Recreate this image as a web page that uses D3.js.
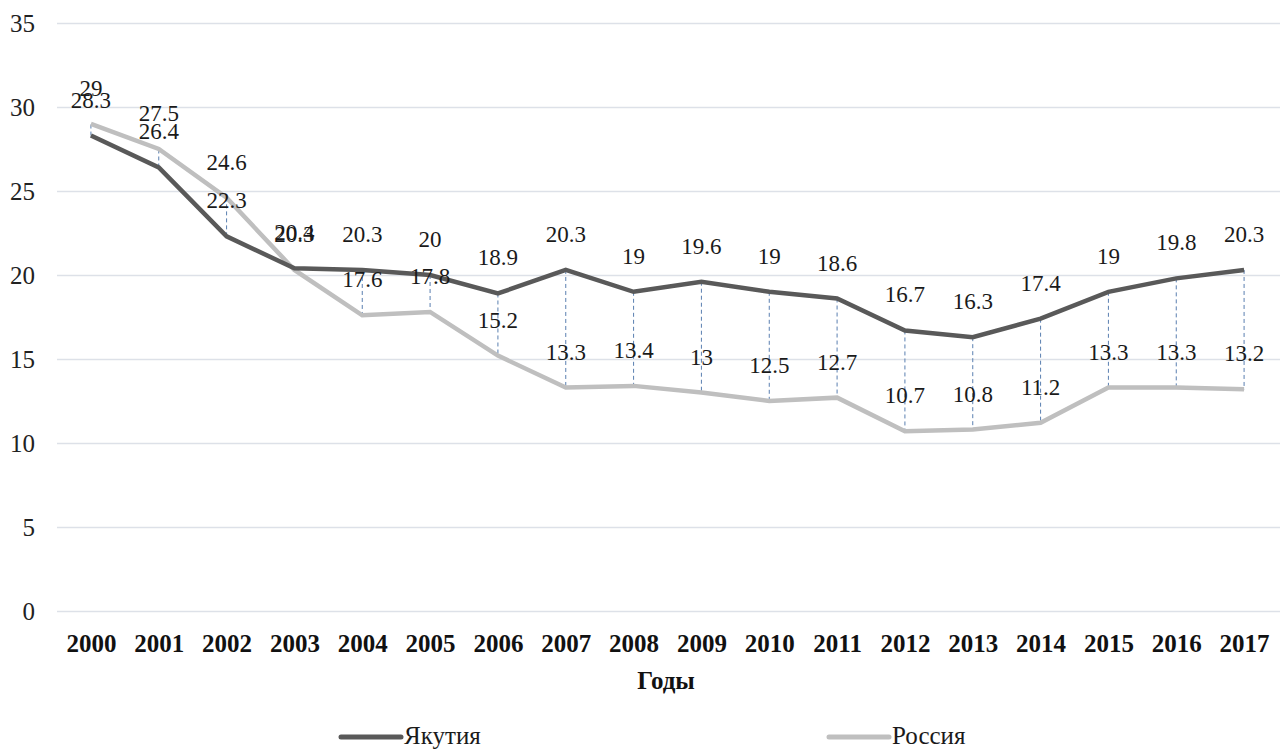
<!DOCTYPE html>
<html>
<head>
<meta charset="utf-8">
<script src="https://cdn.jsdelivr.net/npm/d3@7"></script>
<style>
  body { margin: 0; background: #fff; }
  svg { display: block; font-family: "Liberation Serif", "Times New Roman", serif; }
</style>
</head>
<body>
<svg id="chart" width="1280" height="749"></svg>
<script>
// Chart data
const years = ["2000", "2001", "2002", "2003", "2004", "2005", "2006", "2007", "2008",
  "2009", "2010", "2011", "2012", "2013", "2014", "2015", "2016", "2017"]
const yakutia = [28.3, 26.4, 22.3, 20.4, 20.3, 20, 18.9, 20.3, 19, 19.6, 19, 18.6, 16.7, 16.3, 17.4, 19, 19.8, 20.3]
const russia = [29, 27.5, 24.6, 20.3, 17.6, 17.8, 15.2, 13.3, 13.4, 13, 12.5, 12.7, 10.7, 10.8, 11.2, 13.3, 13.3, 13.2]
const yTicks = [0, 5, 10, 15, 20, 25, 30, 35]

const svg = d3.select("#chart")
const m = { left: 57, right: 1278, top: 23, bottom: 611 }

const x = d3.scalePoint().domain(years).range([m.left, m.right]).padding(0.5)
const y = d3.scaleLinear().domain([0, 35]).range([m.bottom, m.top])

// Gridlines + y labels
const yAxis = d3.axisLeft(y).tickValues(yTicks).tickSize(-(1280 - m.left)).tickPadding(22)
const gy = svg.append("g").attr("transform", `translate(${m.left},0)`).call(yAxis)
gy.select(".domain").remove()
gy.selectAll(".tick line").attr("stroke", "#dde1e8").attr("stroke-width", 1.3)
gy.selectAll(".tick text")
  .attr("font-size", 25).attr("fill", "#222")
  .attr("font-family", "Liberation Serif, serif")

// x labels
const xAxis = d3.axisBottom(x).tickSize(0).tickPadding(0)
const gx = svg.append("g").attr("transform", `translate(0,${m.bottom + 23})`).call(xAxis)
gx.select(".domain").remove()
gx.selectAll(".tick text")
  .attr("font-size", 25).attr("font-weight", "bold").attr("fill", "#111")
  .attr("font-family", "Liberation Serif, serif")

svg.append("text")
  .attr("x", 666).attr("y", 689)
  .attr("text-anchor", "middle")
  .attr("font-size", 25).attr("font-weight", "bold").attr("fill", "#111")
  .text("Годы")

// High-low drop lines
svg.append("g").selectAll("line")
  .data(years)
  .join("line")
  .attr("x1", d => x(d)).attr("x2", d => x(d))
  .attr("y1", (d, i) => y(yakutia[i]))
  .attr("y2", (d, i) => y(russia[i]))
  .attr("stroke", "#5a7fb0")
  .attr("stroke-width", 1)
  .attr("stroke-dasharray", "4,3")

const line = d3.line().x((d, i) => x(years[i])).y(d => y(d))

svg.append("path").datum(russia)
  .attr("d", line).attr("fill", "none")
  .attr("stroke", "#bfbfbf").attr("stroke-width", 4.5)

svg.append("path").datum(yakutia)
  .attr("d", line).attr("fill", "none")
  .attr("stroke", "#595959").attr("stroke-width", 4.5)

// Data labels
const addLabels = (vals) => {
  svg.append("g").selectAll("text")
    .data(vals)
    .join("text")
    .attr("x", (d, i) => x(years[i]))
    .attr("y", d => y(d) - 28)
    .attr("text-anchor", "middle")
    .attr("font-size", 23)
    .attr("fill", "#1a1a1a")
    .text(d => d)
}
addLabels(yakutia)
addLabels(russia)

// Legend
const legend = [
  { name: "Якутия", color: "#595959", x: 341 },
  { name: "Россия", color: "#bfbfbf", x: 829 }
]
const lg = svg.append("g").selectAll("g").data(legend).join("g")
  .attr("transform", d => `translate(${d.x},737)`)
lg.append("line").attr("x1", 0).attr("x2", 60)
  .attr("stroke", d => d.color).attr("stroke-width", 5).attr("stroke-linecap", "round")
lg.append("text").attr("x", 63).attr("y", 7)
  .attr("font-size", 25).attr("fill", "#1a1a1a")
  .text(d => d.name)
</script>
</body>
</html>
